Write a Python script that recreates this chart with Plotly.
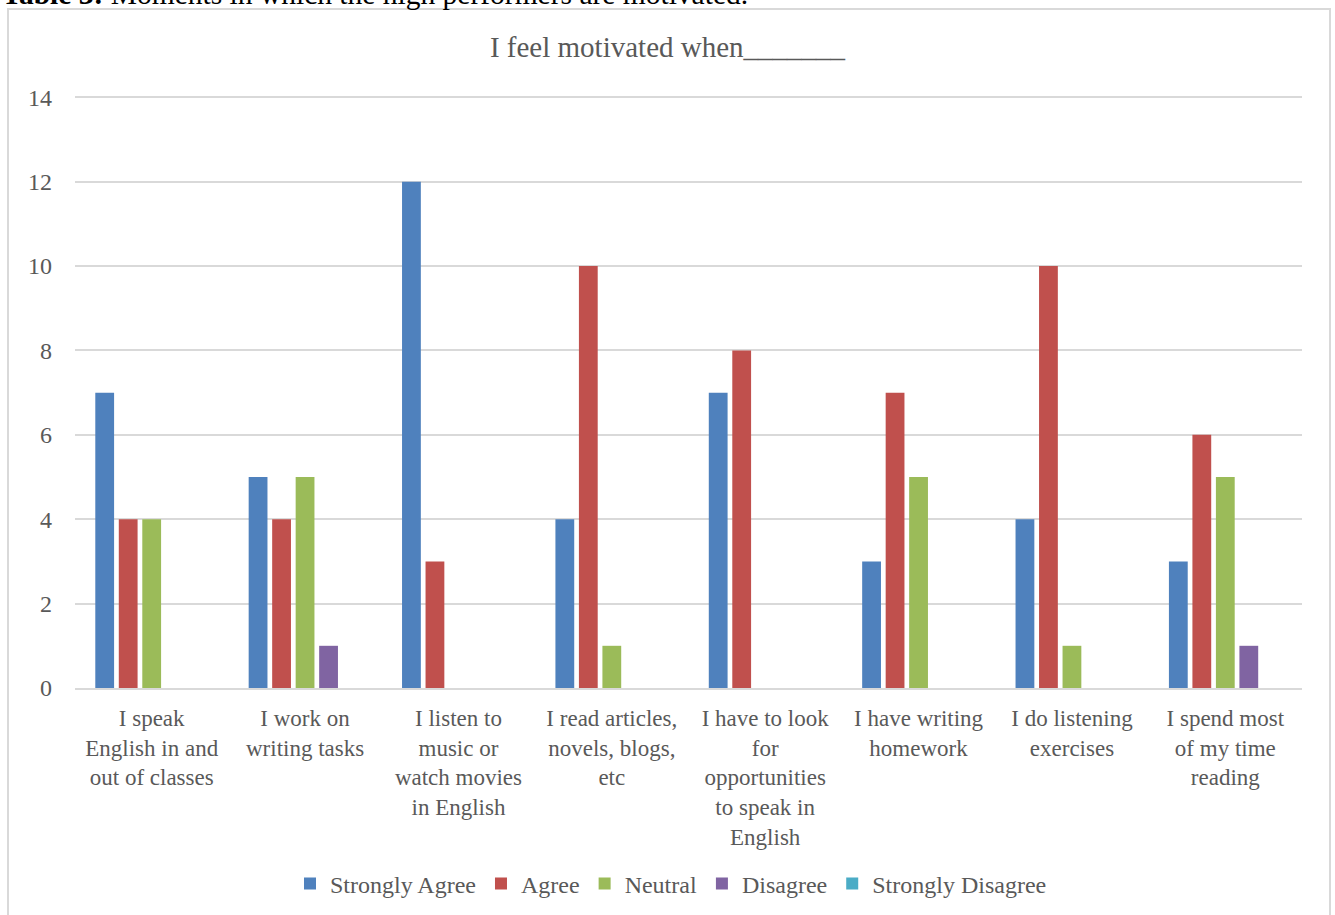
import plotly.graph_objects as go

categories = ["speak", "writing", "listen", "read", "look", "homework", "exercises", "spend"]
tick_labels = [
    "I speak<br>English in and<br>out of classes",
    "I work on<br>writing tasks",
    "I listen to<br>music or<br>watch movies<br>in English",
    "I read articles,<br>novels, blogs,<br>etc",
    "I have to look<br>for<br>opportunities<br>to speak in<br>English",
    "I have writing<br>homework",
    "I do listening<br>exercises",
    "I spend most<br>of my time<br>reading",
]
strongly_agree = [7, 5, 12, 4, 7, 3, 4, 3]
agree = [4, 4, 3, 10, 8, 7, 10, 6]
neutral = [4, 5, 0, 1, 0, 5, 1, 5]
disagree = [0, 1, 0, 0, 0, 0, 0, 1]
strongly_disagree = [0, 0, 0, 0, 0, 0, 0, 0]
y_ticks = [0, 2, 4, 6, 8, 10, 12, 14]

series = [
    ("Strongly Agree", strongly_agree, "#4F81BD"),
    ("Agree", agree, "#C0504D"),
    ("Neutral", neutral, "#9BBB59"),
    ("Disagree", disagree, "#8064A2"),
    ("Strongly Disagree", strongly_disagree, "#4BACC6"),
]

FONT = "Liberation Serif"
GRAY = "#595959"

fig = go.Figure()
for name, vals, color in series:
    fig.add_trace(go.Bar(x=categories, y=vals, name=name,
                         marker=dict(color=color, line=dict(width=0))))

W, H = 1335, 915
ml, mr, mt, mb = 75, 33, 96, 227
pw, ph = W - ml - mr, H - mt - mb
YMAX = 14.03

def px2x(p):
    return (p - ml) / pw

def px2y(p):
    return (H - mb - p) / ph

fig.update_layout(
    width=W, height=H, autosize=False,
    margin=dict(l=ml, r=mr, t=mt, b=mb, autoexpand=False),
    paper_bgcolor="white", plot_bgcolor="white",
    barmode="group", bargap=0.234, bargroupgap=0.2,
    font=dict(family=FONT, color=GRAY, size=23),
    title=dict(text="I feel motivated when_______", x=0.5, xanchor="center",
               y=1 - 47 / H, yanchor="middle",
               font=dict(family=FONT, size=29, color=GRAY)),
    legend=dict(orientation="h", x=px2x(671), xanchor="center",
                y=px2y(884), yanchor="middle",
                font=dict(family=FONT, size=24, color=GRAY),
                itemwidth=30, traceorder="normal"),
    showlegend=True,
)
fig.update_xaxes(tickmode="array", tickvals=categories, ticktext=tick_labels,
                 showgrid=False, showline=True, linecolor="#d9d9d9", linewidth=2,
                 ticks="", tickfont=dict(size=23, color=GRAY, family=FONT),
                 ticklabelstandoff=8, automargin=False)
fig.update_yaxes(range=[0, YMAX], tickvals=y_ticks,
                 showgrid=True, gridcolor="#d9d9d9",
                 gridwidth=1.5, zeroline=False, showline=False, ticks="",
                 tickfont=dict(size=24, color=GRAY, family=FONT),
                 ticklabelstandoff=22, automargin=False)

fig.add_shape(type="rect", xref="paper", yref="paper",
              x0=px2x(8), x1=px2x(1330), y0=px2y(930), y1=px2y(9),
              line=dict(color="#d9d9d9", width=2), fillcolor="rgba(0,0,0,0)",
              layer="below")

fig.add_annotation(xref="paper", yref="paper", x=px2x(0), y=px2y(-6),
                   xanchor="left", yanchor="middle", showarrow=False,
                   text="<b>Table 3:</b> Moments in which the high performers are motivated.",
                   font=dict(family=FONT, size=29.5, color="black"))

fig.write_html("out.html")
